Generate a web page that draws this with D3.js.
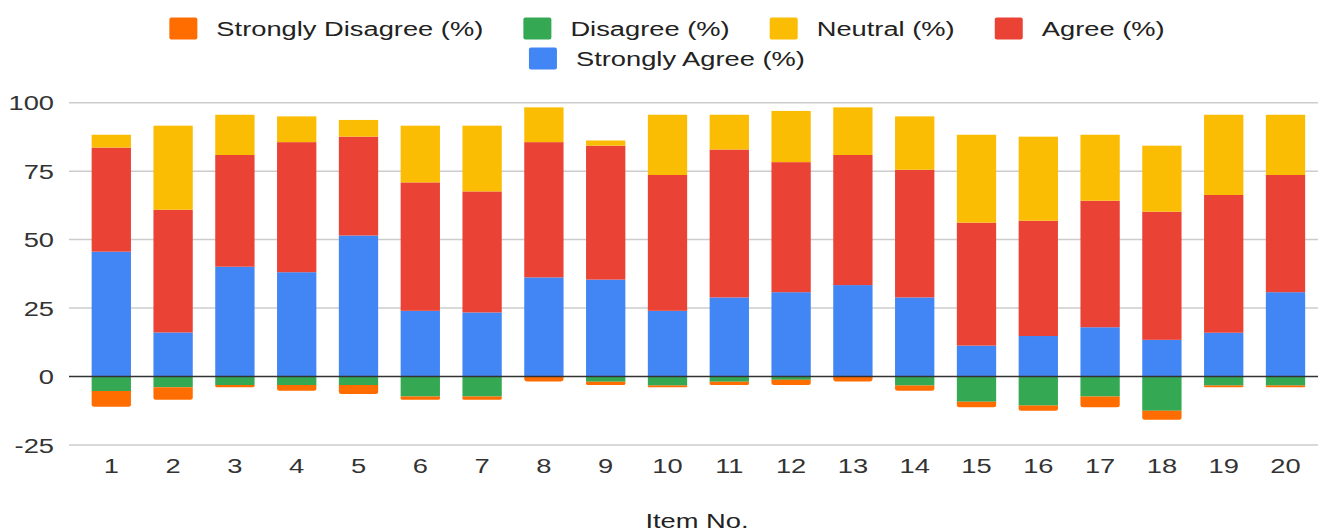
<!DOCTYPE html>
<html><head><meta charset="utf-8">
<script src="https://cdn.jsdelivr.net/npm/d3@7"></script>
<style>
html,body{margin:0;padding:0;background:#fff;}
text{font-family:"Liberation Sans",Arial,sans-serif;}
</style></head>
<body>
<svg id="chart" width="1318" height="531"></svg>
<script>
const items = ["1","2","3","4","5","6","7","8","9","10","11","12","13","14","15","16","17","18","19","20"];
const strongDisagree = [5.7,4.6,0.8,2.1,3.3,1.2,1.2,1.8,1.2,0.6,1.2,1.9,1.8,1.9,2.0,1.9,3.9,3.3,0.6,0.6];
const disagree = [5.3,3.9,3.1,3.1,3.1,7.3,7.3,0,1.9,3.3,1.9,1.2,0,3.3,9.2,10.6,7.3,12.5,3.3,3.3];
const neutral = [4.7,30.7,14.7,9.4,6.1,20.7,24.0,12.7,1.9,22.0,12.7,18.7,17.4,19.5,32.1,30.7,24.1,24.1,29.3,22.0];
const agree = [38.0,44.8,40.8,47.5,36.1,46.9,44.2,49.4,48.9,49.6,54.0,47.5,47.5,46.6,44.9,42.1,46.2,46.8,50.3,42.8];
const strongAgree = [45.6,16.1,40.1,38.1,51.5,24.0,23.4,36.2,35.4,24.0,28.9,30.8,33.4,28.9,11.3,14.8,18.0,13.4,16.0,30.8];
const yTicks = [-25,0,25,50,75,100];
const seriesNames = ["Strongly Disagree (%)","Disagree (%)","Neutral (%)","Agree (%)","Strongly Agree (%)"];
const colors = {"Strongly Disagree (%)":"#ff6d01","Disagree (%)":"#34a853","Neutral (%)":"#fbbc04","Agree (%)":"#ea4335","Strongly Agree (%)":"#4285f4"};
const xTitle = "Item No.";

const SX = 1.3; // horizontal text stretch
const FS = 21;
const svg = d3.select("#chart");

const x = d3.scaleBand().domain(items).range([80.4,1316.4]).paddingInner(0.364).paddingOuter(0.182);
const y = d3.scaleLinear().domain([-25,100]).range([445,102.7]);

function stretchedText(g, tx, ty, str, anchor, fill, size){
  return g.append("text")
    .attr("transform",`translate(${tx},${ty}) scale(${SX},1)`)
    .attr("text-anchor",anchor).attr("font-size",size||FS).attr("fill",fill).text(str);
}

// gridlines
const grid = svg.append("g");
grid.selectAll("line").data(yTicks.filter(d=>d!==0)).join("line")
  .attr("x1",69).attr("x2",1318).attr("y1",d=>y(d)).attr("y2",d=>y(d))
  .attr("stroke","#cccccc").attr("stroke-width",1.5);

// y labels
const yl = svg.append("g");
yTicks.forEach(t=>stretchedText(yl,54,y(t)+7.5,String(t),"end","#333"));

// bars
const bars = svg.append("g");
items.forEach((it,i)=>{
  const x0 = x(it), w = x.bandwidth();
  const sa = strongAgree[i], a = agree[i], n = neutral[i], d = disagree[i], sd = strongDisagree[i];
  // positive
  bars.append("rect").attr("x",x0).attr("width",w).attr("y",y(sa)).attr("height",y(0)-y(sa)).attr("fill",colors["Strongly Agree (%)"]);
  bars.append("rect").attr("x",x0).attr("width",w).attr("y",y(sa+a)).attr("height",y(sa)-y(sa+a)).attr("fill",colors["Agree (%)"]);
  bars.append("rect").attr("x",x0).attr("width",w).attr("y",y(sa+a+n)).attr("height",y(sa+a)-y(sa+a+n)).attr("fill",colors["Neutral (%)"]);
  // negative
  if(d>0) bars.append("rect").attr("x",x0).attr("width",w).attr("y",y(0)).attr("height",y(-d)-y(0)).attr("fill",colors["Disagree (%)"]);
  if(sd>0){
    const top = y(-d), bot = y(-d-sd);
    const r = Math.min(2.5,(bot-top)/2);
    const p = d3.path();
    p.moveTo(x0,top); p.lineTo(x0+w,top); p.lineTo(x0+w,bot-r);
    p.quadraticCurveTo(x0+w,bot,x0+w-r,bot); p.lineTo(x0+r,bot);
    p.quadraticCurveTo(x0,bot,x0,bot-r); p.closePath();
    bars.append("path").attr("d",p.toString()).attr("fill",colors["Strongly Disagree (%)"]);
  }
});

// zero line
svg.append("line").attr("x1",69).attr("x2",1318).attr("y1",y(0)).attr("y2",y(0)).attr("stroke","#333").attr("stroke-width",1.5);

// x labels
const xl = svg.append("g");
items.forEach(it=>stretchedText(xl,x(it)+x.bandwidth()/2,473,it,"middle","#333"));

// x title
stretchedText(svg,697,528,xTitle,"middle","#222");

// legend
const leg = svg.append("g");
const rows = [seriesNames.slice(0,4), seriesNames.slice(4)];
const rowBase = [36,66];
const swW = 28, swH = 22, gapST = 19, gapItem = 40, center = 667;
rows.forEach((row,ri)=>{
  const widths = row.map(s=>{
    const t = leg.append("text").attr("font-size",FS).text(s);
    const wv = t.node().getComputedTextLength()*SX; t.remove(); return wv;
  });
  const total = widths.reduce((a,b)=>a+b,0) + row.length*(swW+gapST) + (row.length-1)*gapItem;
  let cx = center - total/2;
  row.forEach((s,k)=>{
    leg.append("rect").attr("x",cx).attr("y",rowBase[ri]-18.5).attr("width",swW).attr("height",swH).attr("rx",2).attr("fill",colors[s]);
    cx += swW+gapST;
    stretchedText(leg,cx,rowBase[ri],s,"start","#222");
    cx += widths[k]+gapItem;
  });
});
</script>
</body></html>
